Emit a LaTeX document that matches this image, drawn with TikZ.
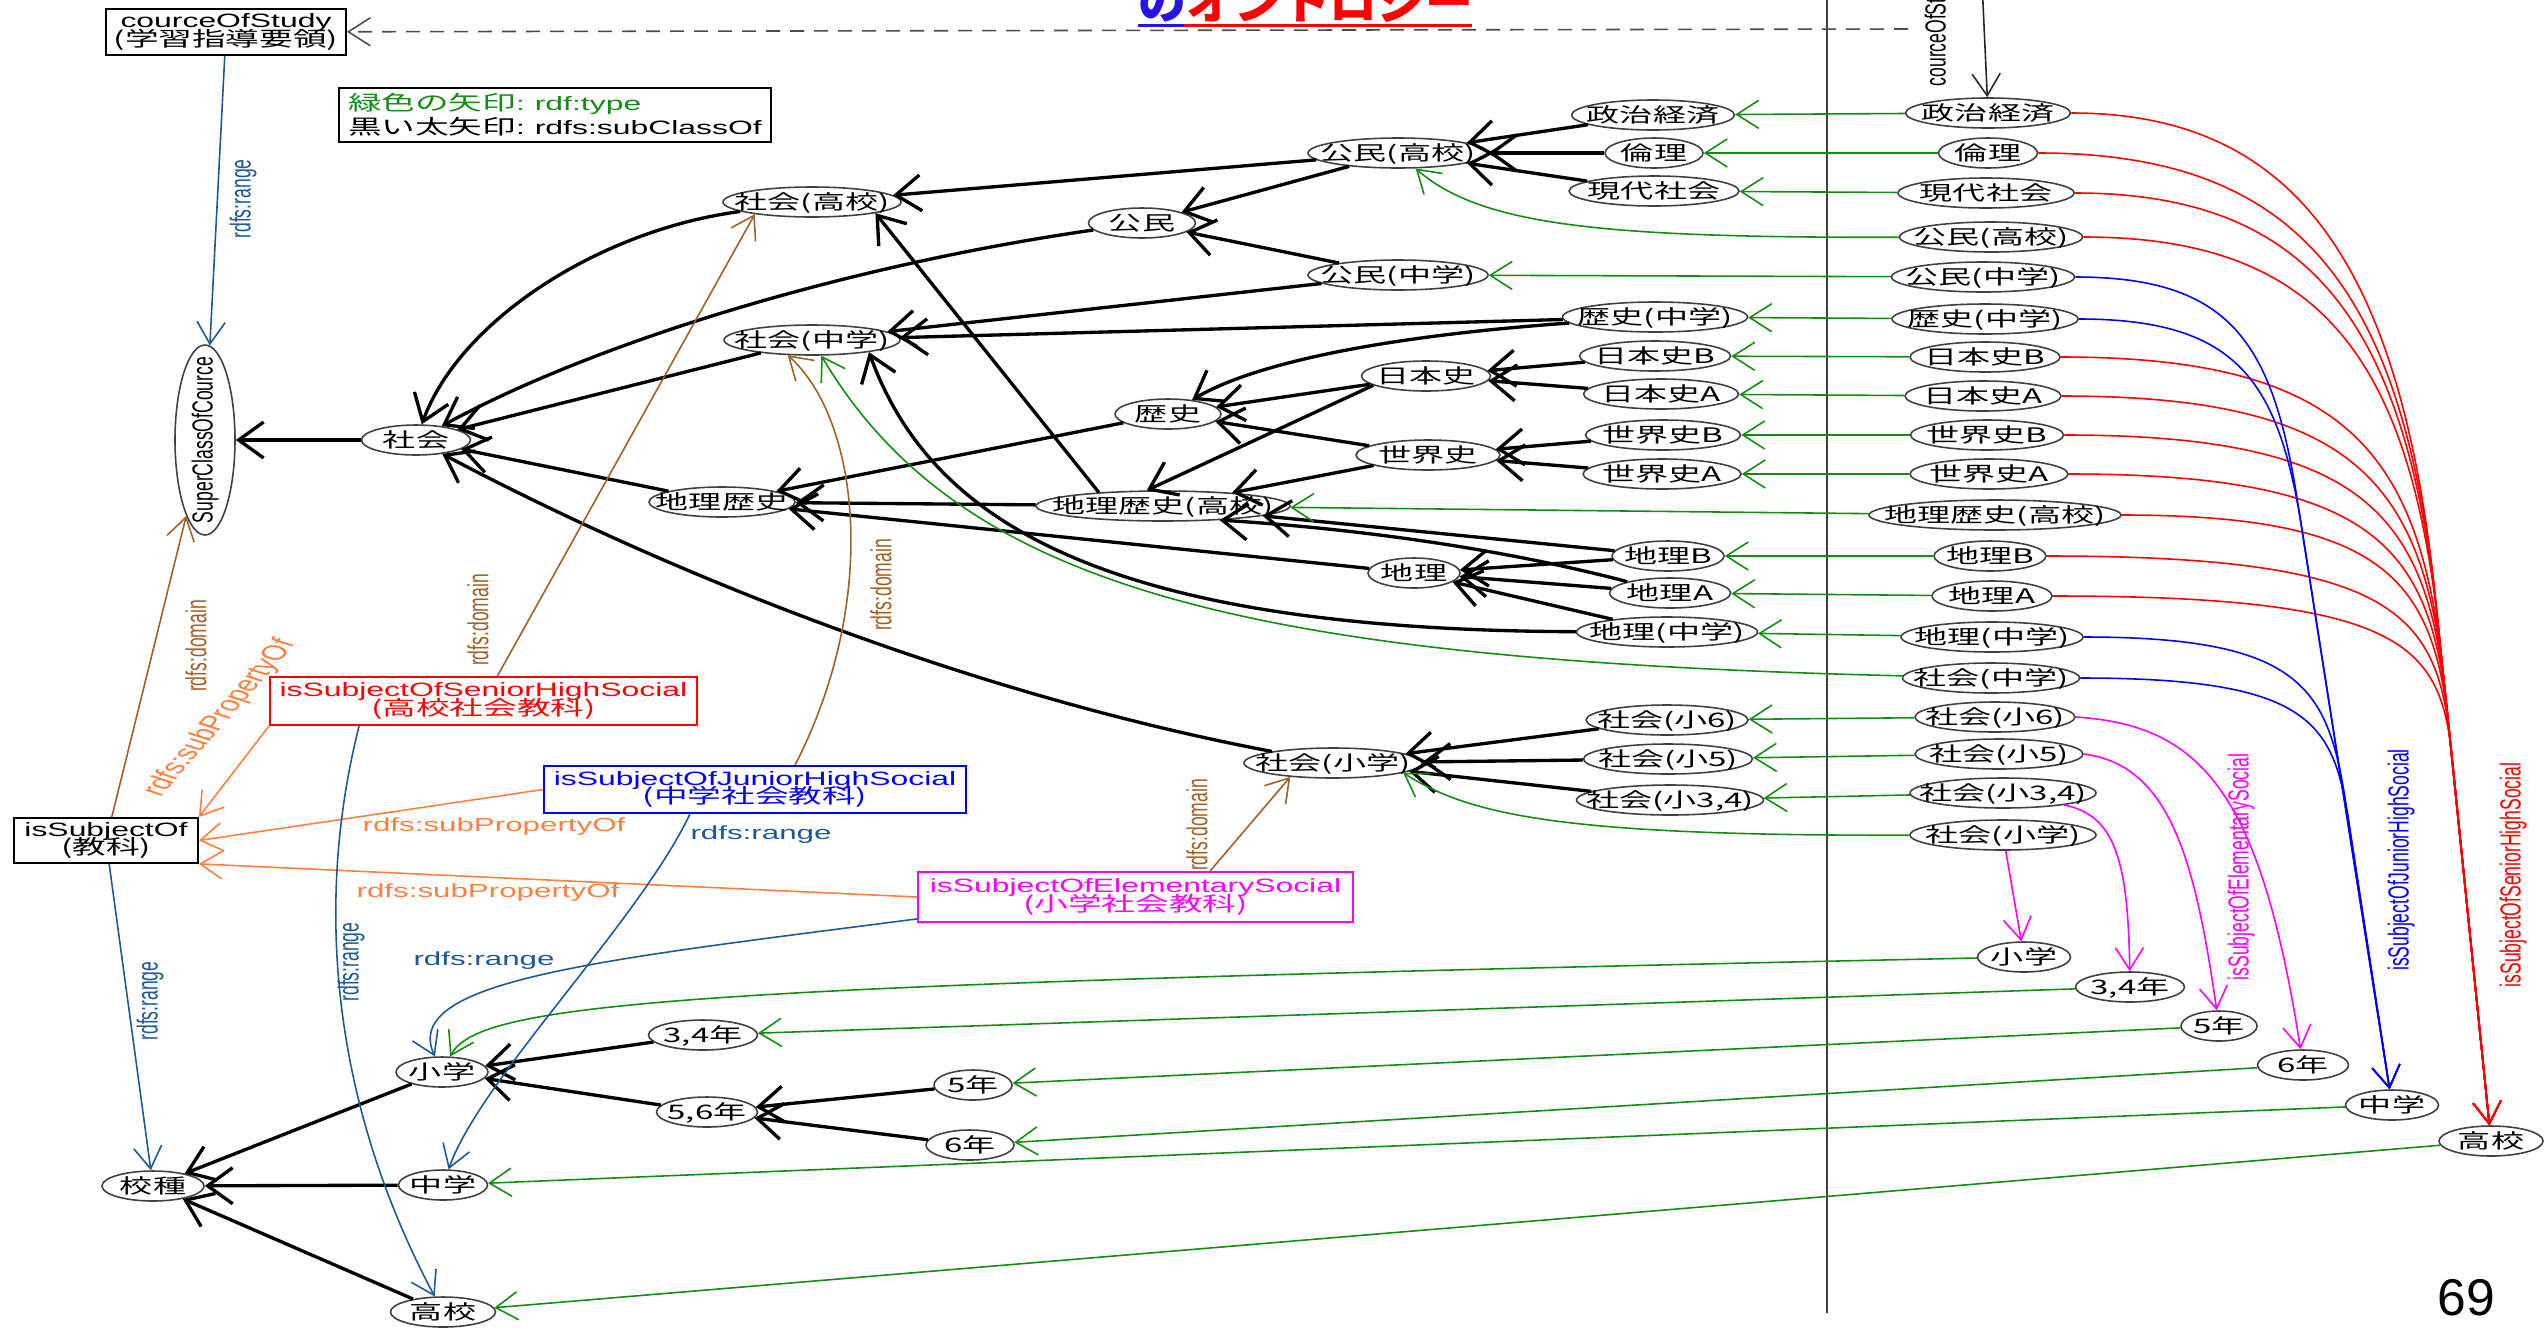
\documentclass[tikz,border=0pt]{standalone}
\usepackage{fontspec}
\usepackage{graphicx}
\setmainfont{Liberation Sans}
\newfontfamily\jpx{Noto Sans CJK JP}[FakeStretch=1.65]
\newfontfamily\lax{Liberation Sans}[FakeStretch=1.65]
\newfontfamily\jpt{Noto Sans CJK JP}
\usetikzlibrary{arrows.meta,shapes.geometric}

\definecolor{typeG}{RGB}{20,140,20}
\definecolor{domB}{RGB}{160,96,40}
\definecolor{spoO}{RGB}{255,128,64}
\definecolor{rngB}{RGB}{30,88,150}
\definecolor{elemM}{RGB}{255,0,255}
\definecolor{titleB}{RGB}{40,20,230}

\newcommand\ovfont{\jpx\fontsize{5.7}{6}\selectfont}
\newcommand\boxlat{\lax\fontsize{5.5}{5.3}\selectfont}
\newcommand\boxjp{\jpx\fontsize{5.8}{5.3}\selectfont}
\newcommand\leglat{\lax\fontsize{5.5}{6.8}\selectfont}
\newcommand\legjp{\jpx\fontsize{5.8}{6.8}\selectfont}
\newcommand\rotfont{\fontsize{5}{6}\selectfont}
\newcommand\vlab[2][90]{\scalebox{1.65}[1]{\rotatebox{#1}{#2}}}
\newcommand\ovt[1]{\ovfont\smash{\makebox[0pt]{\raisebox{-0.38em}{#1}}}}

\tikzset{
  ov/.style={ellipse, draw=black!75, line width=0.45pt, inner sep=0pt, minimum height=3mm},
  pbox/.style={draw, line width=0.5pt, inner sep=0pt, align=center,
    font={\fontsize{5.5}{5.3}\selectfont\lineskiplimit=-5pt}},
  lab/.style={inner sep=0pt, font=\rotfont},
  hlab/.style={inner sep=0pt, font=\lax\fontsize{5.4}{6}\selectfont},
  vhead/.style={-{Straight Barb[length=2.2mm,width=2.8mm]}},
  sub/.style={-{Straight Barb[length=2.5mm,width=3.6mm]}, line width=0.95pt, black},
  typ/.style={vhead, line width=0.45pt, typeG},
  dom/.style={vhead, line width=0.45pt, domB},
  spo/.style={vhead, line width=0.45pt, spoO},
  rng/.style={vhead, line width=0.45pt, rngB},
  senior/.style={vhead, line width=0.45pt, red},
  junior/.style={vhead, line width=0.45pt, blue},
  elem/.style={vhead, line width=0.45pt, elemM},
  plain/.style={vhead, line width=0.45pt, black!85},
  dashcon/.style={vhead, line width=0.45pt, black!70, dash pattern=on 1.4mm off 1mm}
}

\begin{document}
\begin{tikzpicture}[x=0.1mm,y=-0.1mm]
\useasboundingbox (0,0) rectangle (2547,1335);
\fill[white] (0,0) rectangle (2547,1335);

\node[anchor=base west, inner sep=0pt, font=\jpt\bfseries\fontsize{13.6}{14}\selectfont] (title) at (1138,19) {\textcolor{titleB}{の}\textcolor{red}{オントロジー}};
\draw[titleB, line width=0.35mm] (1138,25.5) -- (1184,25.5);
\draw[red, line width=0.35mm] (1184,25.5) -- (1472,25.5);
\draw[black!75, line width=0.5pt] (1827,0) -- (1827,1313);

\node[pbox, minimum width=24mm, minimum height=4.6mm] (cos) at (226,32) {{\boxlat courceOfStudy}\\{\boxjp (学習指導要領)}};
\node[draw, line width=0.5pt, inner xsep=0.9mm, inner ysep=0pt, text width=41.4mm, align=left, minimum height=5.4mm, font={\fontsize{5.6}{6.8}\selectfont\lineskiplimit=-5pt}] (legend) at (555,115) {{\color{typeG}\legjp 緑色の矢印\leglat: rdf:type}\\{\legjp 黒い太矢印\leglat: rdfs:subClassOf}};
\node[pbox, draw=red, text=red, minimum width=42.7mm, minimum height=4.8mm] (pSH) at (483.5,701) {{\boxlat isSubjectOfSeniorHighSocial}\\{\boxjp (高校社会教科)}};
\node[pbox, draw=blue, text=blue, minimum width=42.2mm, minimum height=4.7mm] (pJH) at (755,789.5) {{\boxlat isSubjectOfJuniorHighSocial}\\{\boxjp (中学社会教科)}};
\node[pbox, draw=elemM, text=elemM, minimum width=43.5mm, minimum height=5mm] (pEl) at (1135.5,897) {{\boxlat isSubjectOfElementarySocial}\\{\boxjp (小学社会教科)}};
\node[pbox, minimum width=18.4mm, minimum height=4.5mm] (isub) at (106,840.5) {{\boxlat isSubjectOf}\\{\boxjp (教科)}};

\node[ov, minimum width=6mm, minimum height=19mm, font=\rotfont] (sc) at (205,440) {\smash{\makebox[0pt]{\raisebox{-0.5\height}{\vlab{SuperClassOfCource}}}}};
\node[ov, minimum width=10.9mm] (shakai) at (416,440) {\ovt{社会}};
\node[ov, minimum width=17.8mm] (shK) at (812,202) {\ovt{社会(高校)}};
\node[ov, minimum width=17.6mm] (shJ) at (812,340) {\ovt{社会(中学)}};
\node[ov, minimum width=16.3mm] (seiji) at (1653,115) {\ovt{政治経済}};
\node[ov, minimum width=9.8mm] (rinri) at (1654,153) {\ovt{倫理}};
\node[ov, minimum width=17mm] (gendai) at (1654,191) {\ovt{現代社会}};
\node[ov, minimum width=18mm] (kmK) at (1398,153) {\ovt{公民(高校)}};
\node[ov, minimum width=10.7mm] (km) at (1142,223) {\ovt{公民}};
\node[ov, minimum width=18mm] (kmJ) at (1398,275) {\ovt{公民(中学)}};
\node[ov, minimum width=18.5mm] (rkJ) at (1655,317) {\ovt{歴史(中学)}};
\node[ov, minimum width=15.1mm] (nihonB) at (1655,356) {\ovt{日本史B}};
\node[ov, minimum width=12.9mm] (nihon) at (1426,376) {\ovt{日本史}};
\node[ov, minimum width=15.5mm] (nihonA) at (1661,394) {\ovt{日本史A}};
\node[ov, minimum width=10.6mm] (rk) at (1168,414) {\ovt{歴史}};
\node[ov, minimum width=15.5mm] (sekaiB) at (1663,435) {\ovt{世界史B}};
\node[ov, minimum width=14.4mm] (sekai) at (1428,455) {\ovt{世界史}};
\node[ov, minimum width=15.8mm] (sekaiA) at (1662,474) {\ovt{世界史A}};
\node[ov, minimum width=25.4mm] (crK) at (1163,506) {\ovt{地理歴史(高校)}};
\node[ov, minimum width=14.6mm] (cr) at (722,502) {\ovt{地理歴史}};
\node[ov, minimum width=11.2mm] (chiriB) at (1668,556) {\ovt{地理B}};
\node[ov, minimum width=9.2mm] (chiri) at (1414,573) {\ovt{地理}};
\node[ov, minimum width=12.1mm] (chiriA) at (1670,593) {\ovt{地理A}};
\node[ov, minimum width=18.1mm] (chiriJ) at (1667,632) {\ovt{地理(中学)}};
\node[ov, minimum width=16.2mm] (sh6) at (1667,720) {\ovt{社会(小6)}};
\node[ov, minimum width=16.9mm] (sh5) at (1668,759) {\ovt{社会(小5)}};
\node[ov, minimum width=18.7mm] (sh34) at (1670,800) {\ovt{社会(小3,4)}};
\node[ov, minimum width=17.8mm] (shE) at (1333,763) {\ovt{社会(小学)}};
\node[ov, minimum width=9.2mm] (shoL) at (442,1072) {\ovt{小学}};
\node[ov, minimum width=10.9mm] (y34L) at (703,1035) {\ovt{3,4年}};
\node[ov, minimum width=10.1mm] (y56L) at (707,1112) {\ovt{5,6年}};
\node[ov, minimum width=7.8mm] (y5L) at (973,1085) {\ovt{5年}};
\node[ov, minimum width=8.8mm] (y6L) at (970,1145) {\ovt{6年}};
\node[ov, minimum width=10.2mm] (kosh) at (153,1186) {\ovt{校種}};
\node[ov, minimum width=8.9mm] (chuL) at (443,1185) {\ovt{中学}};
\node[ov, minimum width=10.5mm] (kouL) at (443,1312) {\ovt{高校}};

\node[ov, minimum width=16.5mm] (seijiR) at (1988,113) {\ovt{政治経済}};
\node[ov, minimum width=9.9mm] (rinriR) at (1988,153) {\ovt{倫理}};
\node[ov, minimum width=17.6mm] (gendaiR) at (1986,193) {\ovt{現代社会}};
\node[ov, minimum width=18.3mm] (kmKR) at (1991,237) {\ovt{公民(高校)}};
\node[ov, minimum width=18.3mm] (kmJR) at (1983,277) {\ovt{公民(中学)}};
\node[ov, minimum width=18.6mm] (rkJR) at (1985,319) {\ovt{歴史(中学)}};
\node[ov, minimum width=15mm] (nihonBR) at (1985,357) {\ovt{日本史B}};
\node[ov, minimum width=15.6mm] (nihonAR) at (1983,396) {\ovt{日本史A}};
\node[ov, minimum width=15.3mm] (sekaiBR) at (1987,435) {\ovt{世界史B}};
\node[ov, minimum width=15.8mm] (sekaiAR) at (1989,474) {\ovt{世界史A}};
\node[ov, minimum width=25.2mm] (crKR) at (1995,515) {\ovt{地理歴史(高校)}};
\node[ov, minimum width=11.2mm] (chiriBR) at (1990,556) {\ovt{地理B}};
\node[ov, minimum width=12mm] (chiriAR) at (1992,596) {\ovt{地理A}};
\node[ov, minimum width=18.2mm] (chiriJR) at (1992,637) {\ovt{地理(中学)}};
\node[ov, minimum width=17.7mm] (shJR) at (1991,678) {\ovt{社会(中学)}};
\node[ov, minimum width=16mm] (sh6R) at (1995,717) {\ovt{社会(小6)}};
\node[ov, minimum width=16.8mm] (sh5R) at (1999,754) {\ovt{社会(小5)}};
\node[ov, minimum width=18.6mm] (sh34R) at (2003,793) {\ovt{社会(小3,4)}};
\node[ov, minimum width=18.6mm] (shER) at (2003,835) {\ovt{社会(小学)}};
\node[ov, minimum width=9.3mm] (shoR) at (2024,957) {\ovt{小学}};
\node[ov, minimum width=10.9mm] (y34R) at (2130,987) {\ovt{3,4年}};
\node[ov, minimum width=7.6mm] (y5R) at (2219,1026) {\ovt{5年}};
\node[ov, minimum width=9.1mm] (y6R) at (2303,1065) {\ovt{6年}};
\node[ov, minimum width=9.3mm] (chuR) at (2392,1105) {\ovt{中学}};
\node[ov, minimum width=10.4mm] (kouR) at (2491,1141) {\ovt{高校}};

\draw[sub] (shakai) -- (sc);
\draw[sub] (shK) .. controls (600,230) and (460,320) .. (shakai);
\draw[sub] (shJ) -- (shakai);
\draw[sub] (km) .. controls (850,265) and (600,340) .. (shakai);
\draw[sub] (kmK) -- (shK);
\draw[sub] (kmK) -- (km);
\draw[sub] (kmJ) -- (km);
\draw[sub] (kmJ) -- (shJ);
\draw[sub] (rkJ) -- (shJ);
\draw[sub] (rkJ) .. controls (1400,335) and (1260,360) .. (rk);
\draw[sub] (seiji) -- (kmK);
\draw[sub] (rinri) -- (kmK);
\draw[sub] (gendai) -- (kmK);
\draw[sub] (nihonB) -- (nihon);
\draw[sub] (nihonA) -- (nihon);
\draw[sub] (nihon) -- (rk);
\draw[sub] (sekai) -- (rk);
\draw[sub] (sekaiB) -- (sekai);
\draw[sub] (sekaiA) -- (sekai);
\draw[sub] (sekai) -- (crK);
\draw[sub] (nihon.190) -- (crK.136);
\draw[sub] (crK.168) -- (shK.-10);
\draw[sub] (crK) -- (cr);
\draw[sub] (rk) -- (cr);
\draw[sub] (chiri) -- (cr);
\draw[sub] (cr) -- (shakai);
\draw[sub] (chiriB) -- (chiri);
\draw[sub] (chiriA) -- (chiri);
\draw[sub] (chiriJ) -- (chiri);
\draw[sub] (chiriB) -- (crK);
\draw[sub] (chiriA) .. controls (1500,548) and (1350,528) .. (crK.-14);
\draw[sub] (chiriJ) .. controls (1100,630) and (930,520) .. (shJ.-12);
\draw[sub] (shE) .. controls (1000,700) and (700,590) .. (shakai);
\draw[sub] (sh6) -- (shE);
\draw[sub] (sh5) -- (shE);
\draw[sub] (sh34) -- (shE);
\draw[sub] (y34L) -- (shoL);
\draw[sub] (y56L) -- (shoL);
\draw[sub] (y5L) -- (y56L);
\draw[sub] (y6L) -- (y56L);
\draw[sub] (shoL) -- (kosh);
\draw[sub] (chuL) -- (kosh);
\draw[sub] (kouL) -- (kosh);

\draw[typ] (seijiR) -- (seiji);
\draw[typ] (rinriR) -- (rinri);
\draw[typ] (gendaiR) -- (gendai);
\draw[typ] (kmKR) .. controls (1600,238) and (1480,225) .. (kmK);
\draw[typ] (kmJR) -- (kmJ);
\draw[typ] (rkJR) -- (rkJ);
\draw[typ] (nihonBR) -- (nihonB);
\draw[typ] (nihonAR) -- (nihonA);
\draw[typ] (sekaiBR) -- (sekaiB);
\draw[typ] (sekaiAR) -- (sekaiA);
\draw[typ] (crKR) -- (crK);
\draw[typ] (chiriBR) -- (chiriB);
\draw[typ] (chiriAR) -- (chiriA);
\draw[typ] (chiriJR) -- (chiriJ);
\draw[typ] (shJR) .. controls (1250,660) and (960,590) .. (shJ);
\draw[typ] (sh6R) -- (sh6);
\draw[typ] (sh5R) -- (sh5);
\draw[typ] (sh34R) -- (sh34);
\draw[typ] (shER) .. controls (1560,836) and (1470,815) .. (shE.-8);
\draw[typ] (shoR) .. controls (700,985) and (480,1000) .. (shoL);
\draw[typ] (y34R) -- (y34L);
\draw[typ] (y5R) -- (y5L);
\draw[typ] (y6R) -- (y6L);
\draw[typ] (chuR) -- (chuL);
\draw[typ] (kouR) -- (kouL);

\foreach \n/\yr in {seijiR/113,rinriR/153,gendaiR/193,kmKR/237,nihonBR/357,nihonAR/396,sekaiBR/435,sekaiAR/474,crKR/515,chiriBR/556,chiriAR/596}{
  \pgfmathsetmacro\rr{480-(\yr-113)*0.66}
  \pgfmathsetmacro\yj{\yr+\rr}
  \pgfmathsetmacro\xj{2491-0.105*(1128-\yj)}
  \draw[senior] (\n.east) .. controls ({\xj-0.3*\rr},\yr) and ({\xj-0.0735*\rr},{\yj-0.7*\rr}) .. (\xj,\yj) -- (kouR);
}
\foreach \n/\yr/\rr in {kmJR/277/220,rkJR/319/210,chiriJR/637/160,shJR/678/140}{
  \pgfmathsetmacro\yj{\yr+\rr}
  \pgfmathsetmacro\xj{2392-0.16*(1092-\yj)}
  \draw[junior] (\n.east) .. controls ({\xj-0.3*\rr},\yr) and ({\xj-0.112*\rr},{\yj-0.7*\rr}) .. (\xj,\yj) -- (chuR);
}
\draw[elem] (shER) -- (shoR);
\draw[elem] (sh34R) .. controls (2115,815) and (2128,860) .. (y34R);
\draw[elem] (sh5R.east) .. controls (2170,765) and (2195,860) .. (y5R);
\draw[elem] (sh6R.east) .. controls (2200,725) and (2260,790) .. (y6R);

\draw[dom] (isub) -- (sc);
\draw[dom] (pSH) -- (shK.192);
\draw[dom] ([xshift=4mm]pJH.north) .. controls (880,600) and (860,420) .. (shJ.212);
\draw[dom] ([xshift=7.45mm]pEl.north) -- (shE.198);

\draw[spo] (pSH.south west) -- (isub.north east);
\draw[spo] (pJH.west) -- (isub.east);
\draw[spo] (pEl.west) -- (isub.south east);

\draw[rng] (cos) -- (sc);
\draw[rng] (isub) -- (kosh);
\draw[rng] ([xshift=9mm]pSH.south west) .. controls (315,900) and (330,1100) .. (kouL);
\draw[rng] ([xshift=-6.5mm]pJH.south) .. controls (640,920) and (480,1080) .. (chuL);
\draw[rng] ([yshift=0.4mm]pEl.south west) .. controls (600,960) and (400,980) .. (shoL);

\coordinate (dashR) at (1908,29);
\draw[dashcon] (dashR) -- (cos);
\coordinate (cosTop) at (1981,-40);
\draw[plain] (cosTop) -- (seijiR);

\node[lab, text=rngB] (lrng1) at (243,199) {\vlab{rdfs:range}};
\node[lab, text=domB] (ldom1) at (196,646) {\vlab{rdfs:domain}};
\node[lab, text=domB] (ldom2) at (478,620) {\vlab{rdfs:domain}};
\node[lab, text=domB] (ldom3) at (881,585) {\vlab{rdfs:domain}};
\node[lab, text=domB] (ldom4) at (1197,825) {\vlab{rdfs:domain}};
\node[lab, text=spoO, font=\fontsize{5.9}{6}\selectfont] (lspo1) at (220,718) {\vlab[62]{rdfs:subPropertyOf}};
\node[hlab, text=spoO] (lspo2) at (494,827) {rdfs:subPropertyOf};
\node[hlab, text=spoO] (lspo3) at (488,893) {rdfs:subPropertyOf};
\node[hlab, text=rngB] (lrng2) at (761,835) {rdfs:range};
\node[lab, text=rngB] (lrng3) at (150,1001) {\vlab{rdfs:range}};
\node[lab, text=rngB] (lrng4) at (351,962) {\vlab{rdfs:range}};
\node[hlab, text=rngB] (lrng5) at (484,961) {rdfs:range};
\node[lab, text=elemM] (lel) at (2241,867) {\vlab{isSubjectOfElementarySocial}};
\node[lab, text=blue] (ljh) at (2401,860) {\vlab{isSubjectOfJuniorHighSocial}};
\node[lab, text=red] (lsh) at (2513,875) {\vlab{isSubjectOfSeniorHighSocial}};
\node[lab, anchor=south] (lcos) at (1938,87) {\vlab{courceOfStudy}};

\node[font=\fontsize{14.7}{15}\selectfont] (pg) at (2466,1298) {69};
\end{tikzpicture}
\end{document}
